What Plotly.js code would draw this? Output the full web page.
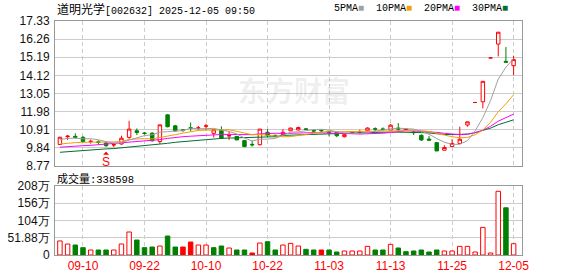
<!DOCTYPE html>
<html><head><meta charset="utf-8">
<script src="https://cdn.plot.ly/plotly-3.0.1.min.js"></script>
<style>html,body{margin:0;padding:0;background:#fff}#c{width:578px;height:276px}</style>
</head><body><div id="c"></div>
<script>
const dates = ['09-05','09-08','09-09','09-10','09-11','09-12','09-15','09-16','09-17','09-18','09-19','09-22','09-23','09-24','09-25','09-26','09-29','09-30','10-09','10-10','10-13','10-14','10-15','10-16','10-17','10-20','10-21','10-22','10-23','10-24','10-27','10-28','10-29','10-30','10-31','11-03','11-04','11-05','11-06','11-07','11-10','11-11','11-12','11-13','11-14','11-17','11-18','11-19','11-20','11-21','11-24','11-25','11-26','11-27','11-28','12-01','12-02','12-03','12-04','12-05'];
const opens  = [10.04,10.50,10.52,10.46,10.20,10.20,10.13,10.01,10.07,10.46,10.85,10.72,10.71,10.22,11.79,11.14,10.90,11.03,11.00,11.12,10.70,10.89,10.54,10.52,10.27,10.05,10.03,10.76,10.58,10.62,10.85,10.90,10.96,10.86,10.87,10.80,10.76,10.50,10.72,10.76,10.85,10.97,10.96,10.89,11.01,10.90,10.78,10.58,10.36,10.15,9.70,9.92,10.10,11.19,12.52,12.56,15.15,15.97,14.95,14.69];
const highs  = [10.49,10.60,10.70,10.54,10.33,10.29,10.21,10.13,10.56,11.44,10.99,10.78,10.76,11.20,11.83,11.20,10.93,11.34,11.13,11.26,10.91,11.11,10.81,10.54,10.28,10.27,10.95,10.95,10.62,10.95,11.03,11.10,11.01,10.93,10.93,10.82,10.78,10.66,10.82,10.91,11.05,11.05,11.05,11.24,11.30,10.98,10.84,10.64,10.55,10.19,9.99,10.35,11.09,11.38,12.52,13.77,15.15,16.67,15.79,15.28];
const lows   = [10.02,10.31,10.38,10.15,10.09,10.05,9.90,9.89,10.03,10.38,10.60,10.62,10.22,10.07,11.05,10.79,10.78,10.81,10.89,10.88,10.46,10.37,10.31,10.30,9.88,9.92,9.98,10.46,10.46,10.56,10.83,10.86,10.89,10.76,10.76,10.52,10.47,10.46,10.66,10.68,10.81,10.81,10.85,10.85,10.79,10.88,10.60,10.25,10.25,9.65,9.70,9.92,10.06,11.09,12.52,12.17,15.15,15.24,14.88,14.13];
const closes = [10.47,10.53,10.46,10.22,10.23,10.16,9.97,10.03,10.41,10.95,10.75,10.69,10.26,11.20,11.09,10.85,10.88,11.00,11.02,11.14,10.91,10.41,10.57,10.31,9.92,10.02,10.95,10.58,10.55,10.76,11.01,11.04,10.94,10.84,10.85,10.76,10.56,10.62,10.76,10.78,11.01,10.95,10.93,11.18,10.95,10.94,10.74,10.31,10.30,9.66,9.86,10.10,10.35,11.38,12.52,13.77,15.15,16.67,14.90,15.05];
// volume in 手
const volumes = [422000,330000,300000,220000,150000,150000,150000,150000,330000,692000,450000,220000,240000,270000,570000,240000,240000,390000,300000,300000,220000,270000,210000,150000,150000,60000,360000,400000,150000,300000,350000,270000,170000,150000,150000,150000,90000,120000,120000,120000,260000,150000,150000,320000,210000,100000,120000,150000,90000,150000,120000,120000,260000,260000,90000,830000,60000,1916000,1420000,338598];
// moving-average values read off the chart where earlier closes are not shown
const ma5Head  = [10.33,10.40,10.42,10.37];
const ma10Head = [10.07,10.13,10.15,10.17,10.19,10.19,10.19,10.19,10.21];
const ma20Head = [9.88,9.92,9.94,9.97,9.99,10.03,10.05,10.09,10.11,10.15,10.19,10.23,10.27,10.33,10.40,10.47,10.50,10.53,10.56];
const ma30Head = [9.58,9.62,9.66,9.68,9.72,9.74,9.78,9.80,9.84,9.88,9.92,9.95,9.99,10.05,10.11,10.17,10.21,10.27,10.31,10.34,10.38,10.40,10.42,10.44,10.44,10.44,10.46,10.48,10.50];
const labelDates = ['09-10','09-22','10-10','10-22','11-03','11-13','11-25','12-05'];
const priceTicks = [8.77,9.84,10.91,11.98,13.05,14.12,15.19,16.26,17.33];
const volTicks = [0,518800,1037600,1556400,2075200];
const volTickText = ['0','51.88万','104万','156万','208万'];
const stockTitle = '道明光学';
const stockCode = '[002632] 2025-12-05 09:50';
const volLabel = '成交量';
const lastVolume = 338598;

function movingAvg(n, head){
  return closes.map((c,i)=>{
    if(i < n-1) return head[i];
    let s=0; for(let k=i-n+1;k<=i;k++) s+=closes[k];
    return s/n;
  });
}
const RED='#ff0000', GREEN='#008000';
const volFill=[], volLine=[];
for(let i=0;i<closes.length;i++){
  const prev = i>0 ? closes[i-1] : opens[i];
  const up = closes[i] >= prev;
  if(up){ volLine.push(RED); volFill.push(closes[i] >= opens[i] ? '#ffffff' : RED); }
  else { volLine.push(GREEN); volFill.push(GREEN); }
}
const maColors = {5:'#a0a0a0',10:'#f0a000',20:'#ff00ff',30:'#00702f'};
const traces = [
  {type:'candlestick', x:dates, open:opens, high:highs, low:lows, close:closes, xaxis:'x', yaxis:'y',
   increasing:{line:{color:RED,width:1}, fillcolor:'#ffffff'},
   decreasing:{line:{color:GREEN,width:1}, fillcolor:GREEN},
   whiskerwidth:0, hoverinfo:'skip'},
  {type:'scatter', mode:'lines', x:dates, y:movingAvg(30,ma30Head), line:{color:maColors[30],width:1}, xaxis:'x', yaxis:'y', hoverinfo:'skip'},
  {type:'scatter', mode:'lines', x:dates, y:movingAvg(20,ma20Head), line:{color:maColors[20],width:1}, xaxis:'x', yaxis:'y', hoverinfo:'skip'},
  {type:'scatter', mode:'lines', x:dates, y:movingAvg(10,ma10Head), line:{color:maColors[10],width:1}, xaxis:'x', yaxis:'y', hoverinfo:'skip'},
  {type:'scatter', mode:'lines', x:dates, y:movingAvg(5,ma5Head), line:{color:maColors[5],width:1}, xaxis:'x', yaxis:'y', hoverinfo:'skip'},
  {type:'bar', x:dates, y:volumes, xaxis:'x2', yaxis:'y2', marker:{color:volFill, line:{color:volLine,width:1}}, hoverinfo:'skip'}
];
const tickFont = {family:'Liberation Sans, Arial, sans-serif', size:12, color:'#111'};
const axCommon = {showline:true, mirror:true, linecolor:'#999', linewidth:1, zeroline:false, ticks:''};
const layout = {
  width:578, height:276, margin:{l:55,r:56,t:21,b:21},
  paper_bgcolor:'#fff', plot_bgcolor:'#fff', showlegend:false, bargap:0.42, boxgap:0.36,
  xaxis:Object.assign({}, axCommon, {type:'category', domain:[0,1], anchor:'y', range:[-0.64,60.09], showticklabels:false,
    tickvals:labelDates, showgrid:true, gridcolor:'#cccccc', griddash:'4px,3px', rangeslider:{visible:false}}),
  yaxis:Object.assign({}, axCommon, {domain:[0.3803,1], range:[8.77,17.33], tickvals:priceTicks, ticktext:priceTicks.map(v=>v.toFixed(2)),
    showgrid:true, gridcolor:'#cccccc', tickfont:tickFont, ticklabelstandoff:2}),
  xaxis2:Object.assign({}, axCommon, {type:'category', domain:[0,1], anchor:'y2', matches:'x', range:[-0.64,60.09], tickvals:labelDates,
    showgrid:true, gridcolor:'#cccccc', griddash:'4px,3px', tickfont:{family:'Liberation Sans, Arial, sans-serif', size:12, color:'#ff0000'}}),
  yaxis2:Object.assign({}, axCommon, {domain:[0,0.2949], range:[0,2075200], tickvals:volTicks, ticktext:volTickText,
    showgrid:true, gridcolor:'#cccccc', tickfont:tickFont, ticklabelstandoff:2}),
  annotations:[
    {xref:'paper', yref:'paper', x:0, y:1, xanchor:'left', yanchor:'middle', yshift:13, showarrow:false,
     text:'<span style="font-family:Noto Sans CJK SC;font-size:12px">'+stockTitle+'</span>'+stockCode,
     font:{family:'Liberation Mono, monospace', size:10, color:'#000'}},
    {xref:'paper', yref:'paper', x:0.974, y:1, xanchor:'right', yanchor:'middle', yshift:13, showarrow:false,
     text:'5PMA<span style="color:'+maColors[5]+'">■</span>  10PMA<span style="color:'+maColors[10]+'">■</span>  20PMA<span style="color:'+maColors[20]+'">■</span>  30PMA<span style="color:'+maColors[30]+'">■</span>',
     font:{family:'Liberation Mono, monospace', size:10, color:'#000'}},
    {xref:'paper', yref:'paper', x:0, y:0.2949, xanchor:'left', yanchor:'middle', yshift:8, showarrow:false,
     text:'<span style="font-family:Noto Sans CJK SC;font-size:11px">'+volLabel+'</span>:'+lastVolume,
     font:{family:'Liberation Mono, monospace', size:10.5, color:'#000'}},
    {xref:'paper', yref:'paper', x:0.512, y:0.705, xanchor:'center', yanchor:'middle', showarrow:false,
     text:'<b>东方财富</b>', font:{family:'Noto Sans CJK SC', size:28, color:'rgba(0,0,0,0.08)'}},
    {xref:'x', yref:'y', x:dates[6], y:lows[6], yshift:-5, showarrow:true, ax:0, ay:10, arrowhead:1, arrowsize:1, arrowwidth:1,
     arrowcolor:RED, text:'S', font:{family:'Liberation Sans, Arial, sans-serif', size:12, color:RED}}
  ]
};
Plotly.newPlot('c', traces, layout, {staticPlot:true, displayModeBar:false});
</script></body></html>
